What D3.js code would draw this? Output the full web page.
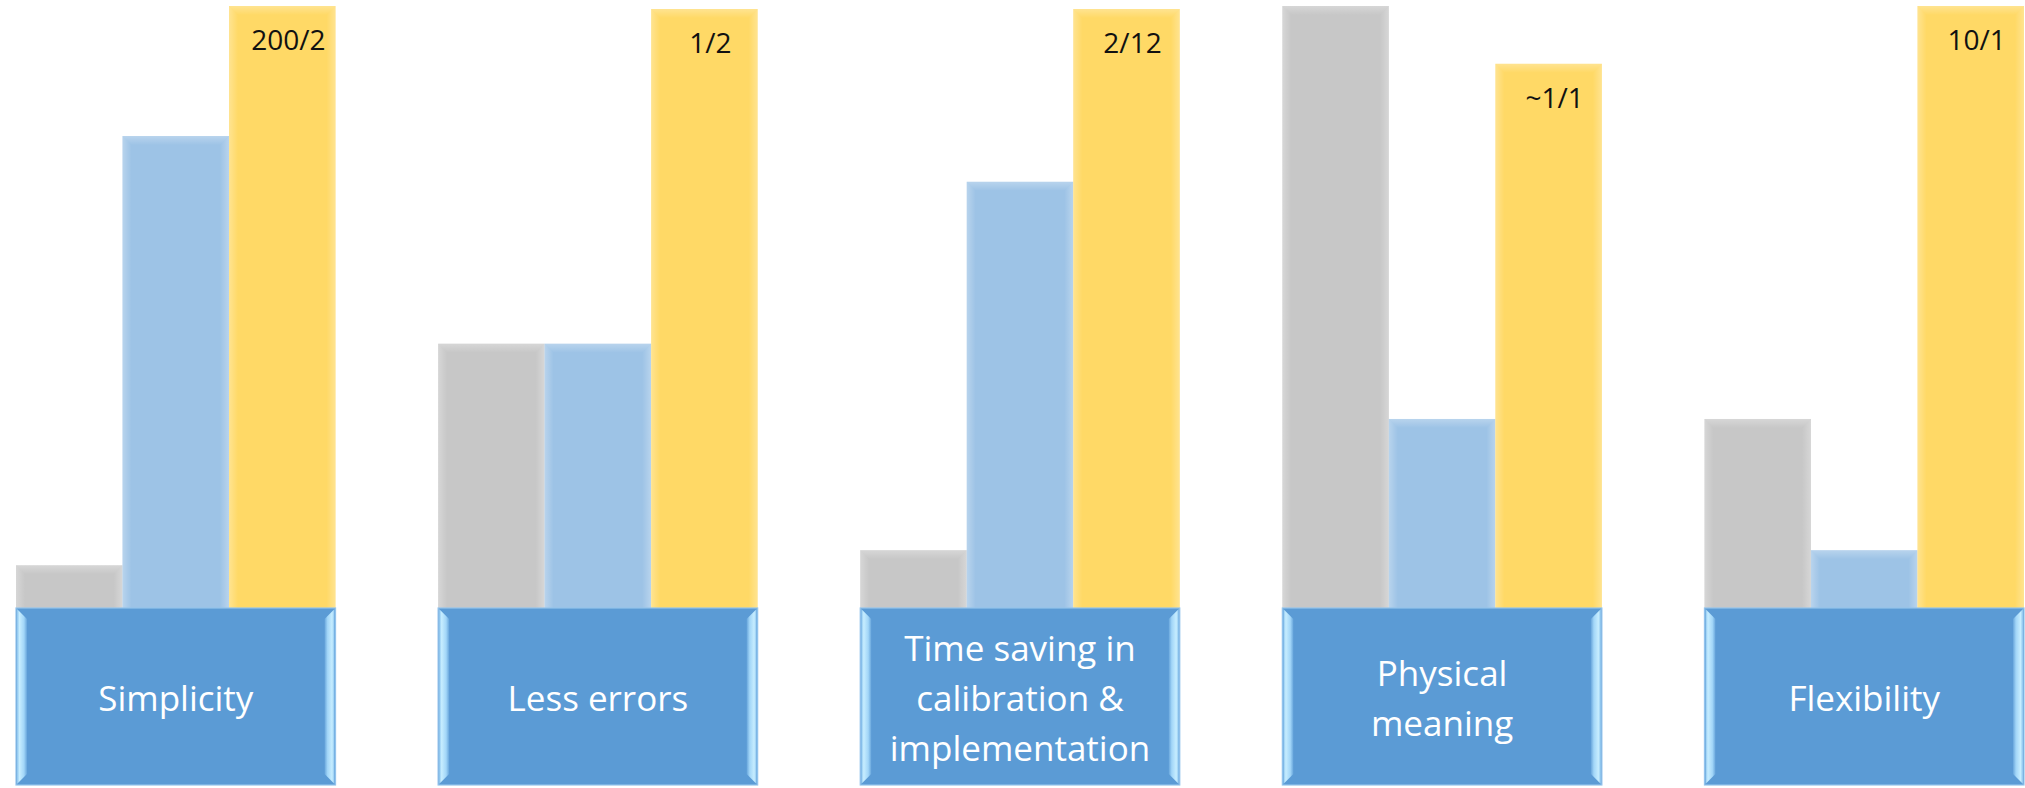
<!DOCTYPE html>
<html>
<head>
<meta charset="utf-8">
<script src="https://cdn.jsdelivr.net/npm/d3@7"></script>
<style>
  html, body { margin: 0; padding: 0; background: #ffffff; }
  svg { display: block; }
</style>
</head>
<body>
<svg id="chart" width="2025" height="788"></svg>
<script>
// Criteria compared, one group of three bars each
const categories = ["Simplicity", "Less errors", "Time saving in calibration & implementation", "Physical meaning", "Flexibility"];
// Label lines written inside the blue box under each group
const categoryLines = [
  ["Simplicity"],
  ["Less errors"],
  ["Time saving in", "calibration &", "implementation"],
  ["Physical", "meaning"],
  ["Flexibility"]
];
const seriesKeys = ["grey", "blue", "gold"];
// Relative scores (0-100) per series
const greyValues = [7.1, 43.9, 9.6, 100, 31.4];
const blueValues = [78.4, 43.9, 70.8, 31.4, 9.6];
const goldValues = [100, 99.5, 99.5, 90.4, 100];
// Ratio labels printed at the top of the gold bars
const goldLabels = ["200/2", "1/2", "2/12", "~1/1", "10/1"];

const seriesValues = { grey: greyValues, blue: blueValues, gold: goldValues };
const seriesColors = { grey: "#c7c7c7", blue: "#9dc3e6", gold: "#ffd966" };

const svg = d3.select("#chart");
const defs = svg.append("defs");

const baseY = 608;
const boxBottom = 785;

const x0 = d3.scaleBand().domain(categories).range([16, 2024]).paddingInner(0.243).paddingOuter(0);
const x1 = d3.scaleBand().domain(seriesKeys).range([0, x0.bandwidth()]).padding(0);
const y = d3.scaleLinear().domain([0, 100]).range([baseY, 6]);

// soft bevel gradients for the bars and boxes
function lin(id, x1_, y1_, x2_, y2_, stops) {
  const g = defs.append("linearGradient").attr("id", id)
    .attr("x1", x1_).attr("y1", y1_).attr("x2", x2_).attr("y2", y2_);
  stops.forEach(s => g.append("stop").attr("offset", s[0]).attr("stop-color", s[1]).attr("stop-opacity", s[2]));
}
lin("bevL", 0, 0, 1, 0, [[0, "#fff", 0.28], [1, "#fff", 0]]);
lin("bevR", 0, 0, 1, 0, [[0, "#fff", 0], [1, "#fff", 0.28]]);
lin("bevT", 0, 0, 0, 1, [[0, "#fff", 0.28], [1, "#fff", 0]]);
lin("boxL", 0, 0, 1, 0, [[0, "#8cc4ee", 1], [0.25, "#c6edff", 1], [0.7, "#a2d6f8", 1], [1, "#68a6dc", 1]]);
lin("boxR", 0, 0, 1, 0, [[0, "#68a6dc", 1], [0.3, "#a2d6f8", 1], [0.75, "#c6edff", 1], [1, "#8cc4ee", 1]]);

function bevel(g, x, yTop, w, h, b, fills) {
  const xr = x + w, yb = yTop + h;
  g.append("polygon").attr("points", [[x, yTop], [x + b, yTop + b], [x + b, yb - (fills[3] ? b : 0)], [x, yb]].join(" ")).attr("fill", fills[0]);
  g.append("polygon").attr("points", [[xr, yTop], [xr - b, yTop + b], [xr - b, yb - (fills[3] ? b : 0)], [xr, yb]].join(" ")).attr("fill", fills[1]);
  if (fills[2]) {
    g.append("polygon").attr("points", [[x, yTop], [xr, yTop], [xr - b, yTop + b], [x + b, yTop + b]].join(" ")).attr("fill", fills[2]);
  }
}

const groups = svg.selectAll("g.group")
  .data(categories)
  .join("g")
  .attr("class", "group")
  .attr("transform", d => `translate(${x0(d)},0)`);

// bars
groups.each(function (cat, i) {
  const g = d3.select(this);
  seriesKeys.forEach(key => {
    const v = seriesValues[key][i];
    const bx = x1(key), by = y(v), bw = x1.bandwidth(), bh = baseY - y(v);
    g.append("rect")
      .attr("x", bx).attr("y", by).attr("width", bw).attr("height", bh)
      .attr("fill", seriesColors[key]);
    bevel(g, bx, by, bw, bh, Math.min(9, bh / 2), ["url(#bevL)", "url(#bevR)", "url(#bevT)", false]);
  });
});

// value labels on gold bars
groups.append("text")
  .attr("x", x1("gold") + x1.bandwidth() / 2 + 6)
  .attr("y", (d, i) => y(goldValues[i]) + 44)
  .attr("text-anchor", "middle")
  .attr("font-family", "'Open Sans', sans-serif")
  .attr("font-size", 28)
  .attr("fill", "#111")
  .text((d, i) => goldLabels[i]);

// category boxes
groups.each(function (cat, i) {
  const g = d3.select(this);
  const w = x0.bandwidth();
  g.append("rect")
    .attr("x", 0).attr("y", baseY).attr("width", w).attr("height", boxBottom - baseY)
    .attr("fill", "#5b9bd5")
    .attr("stroke", "#93c3ec").attr("stroke-width", 1.2);
  bevel(g, 1, baseY + 1, w - 2, boxBottom - baseY - 2, 10, ["url(#boxL)", "url(#boxR)", null, true]);
  const lines = categoryLines[i];
  const t = g.append("text")
    .attr("text-anchor", "middle")
    .attr("font-family", "'Open Sans', sans-serif")
    .attr("font-size", 35)
    .attr("fill", "#ffffff");
  lines.forEach((ln, k) => {
    t.append("tspan")
      .attr("x", w / 2)
      .attr("y", 711 + (k - (lines.length - 1) / 2) * 50)
      .text(ln);
  });
});
</script>
</body>
</html>
